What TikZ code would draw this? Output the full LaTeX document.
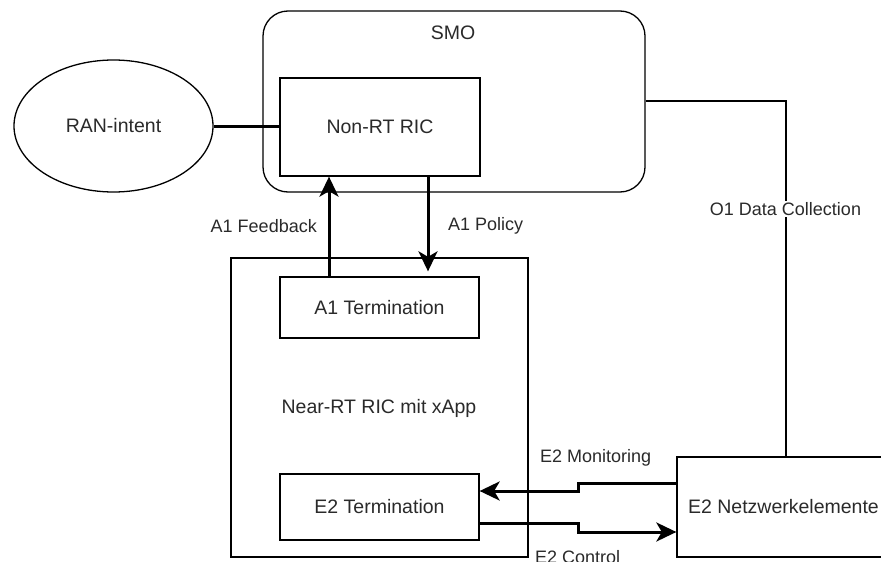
\documentclass[tikz,border=0pt]{standalone}
\usepackage{fontspec}
\setmainfont{Liberation Sans}
\usetikzlibrary{arrows.meta,shapes.geometric}
\definecolor{txt}{HTML}{2A2A2A}
\tikzset{
  box/.style={draw=black, line width=1.3pt, fill=white, inner sep=0pt, text=txt, font=\fontsize{19.5}{22}\selectfont},
  plain/.style={inner sep=0pt, text=txt, font=\fontsize{19.5}{22}\selectfont},
  lbl/.style={inner sep=1pt, text=txt, font=\fontsize{18}{21}\selectfont},
  thin/.style={draw=black, line width=1.3pt},
  thk/.style={draw=black, line width=3pt},
  arr/.style={thk, -{Stealth[length=20pt, width=19pt, inset=5.5pt]}},
}
\begin{document}
\begin{tikzpicture}[x=1pt, y=-1pt]
\useasboundingbox (0,0) rectangle (881,562);
\clip (0,0) rectangle (881,562);
\fill[white] (0,0) rectangle (881,562);
% SMO container
\node[box, rounded corners=25pt, minimum width=382pt, minimum height=181pt] (smo) at (454,101.5) {};
\node[plain] (smolbl) at (453,33) {SMO};
\node[box, minimum width=200pt, minimum height=98pt] (nonrt) at (380,127) {Non-RT RIC};
% RAN intent
\node[box, ellipse, minimum width=199pt, minimum height=132pt] (ran) at (113.5,126) {RAN-intent};
% Near-RT RIC
\node[box, minimum width=297pt, minimum height=299pt] (nearrt) at (379.5,407.5) {};
\node[plain] (nearlbl) at (379,408) {Near-RT RIC mit xApp};
\node[box, minimum width=199pt, minimum height=61pt] (a1t) at (379.5,307.5) {A1 Termination};
\node[box, minimum width=199pt, minimum height=66pt] (e2t) at (379.5,507) {E2 Termination};
% E2 network elements
\node[box, minimum width=213pt, minimum height=100pt] (e2n) at (783.5,507) {E2 Netzwerkelemente};
% coordinates
\coordinate (o1c) at (786,101);
\coordinate (fb) at (329,0);
\coordinate (po) at (428,0);
\coordinate (mA) at (578,483);
\coordinate (mB) at (578,491);
\coordinate (cA) at (578,523);
\coordinate (cB) at (578,532);
% connectors
\draw[thk] (ran.east) -- (ran.east -| nonrt.west);
\draw[thin] (smo.east |- o1c) -- (o1c) -- (o1c |- e2n.north);
\node[lbl, fill=white] (o1lbl) at (785.5,209) {O1 Data Collection};
\draw[arr] (a1t.north -| fb) -- (nonrt.south -| fb);
\draw[arr, shorten >=5pt] (nonrt.south -| po) -- (a1t.north -| po);
\node[lbl, anchor=east] (fblbl) at (318,226) {A1 Feedback};
\node[lbl, anchor=west] (polbl) at (447,226) {A1 Policy};
\draw[arr] (e2n.west |- mA) -- (mA) -- (mB) -- (e2t.east |- mB);
\draw[arr] (e2t.east |- cA) -- (cA) -- (cB) -- (e2n.west |- cB);
\node[lbl, anchor=west] (monlbl) at (539,458) {E2 Monitoring};
\node[lbl, anchor=west] (ctllbl) at (534,557) {E2 Control};
\end{tikzpicture}
\end{document}
